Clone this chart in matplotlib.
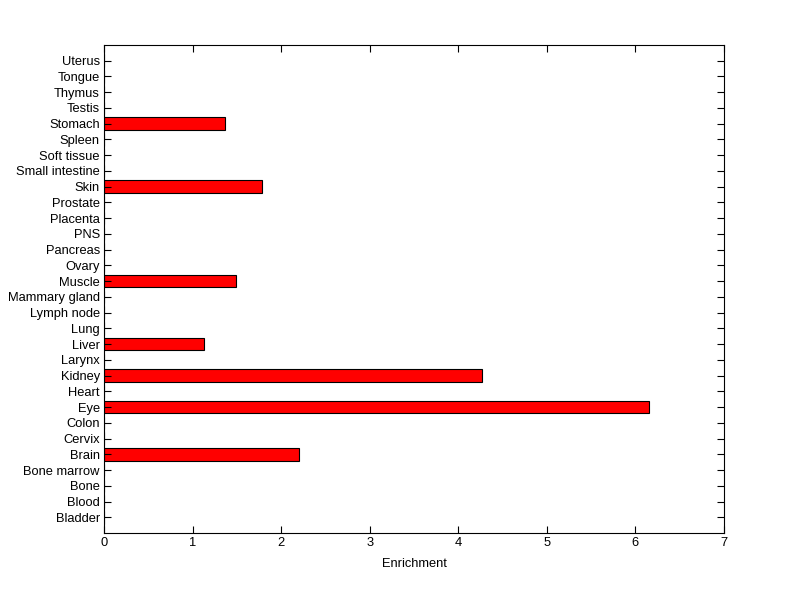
import matplotlib
matplotlib.use("Agg")
import matplotlib.pyplot as plt
import numpy as np

tissues = [
    "Bladder", "Blood", "Bone", "Bone marrow", "Brain", "Cervix", "Colon",
    "Eye", "Heart", "Kidney", "Larynx", "Liver", "Lung", "Lymph node",
    "Mammary gland", "Muscle", "Ovary", "Pancreas", "PNS", "Placenta",
    "Prostate", "Skin", "Small intestine", "Soft tissue", "Spleen",
    "Stomach", "Testis", "Thymus", "Tongue", "Uterus",
]
enrichment = [
    0, 0, 0, 0, 2.20, 0, 0,
    6.15, 0, 4.27, 0, 1.13, 0, 0,
    0, 1.49, 0, 0, 0, 0,
    0, 1.78, 0, 0, 0,
    1.37, 0, 0, 0, 0,
]
xticks = [0, 1, 2, 3, 4, 5, 6, 7]

plt.rcParams["font.family"] = ["Liberation Sans", "DejaVu Sans"]

fig = plt.figure(figsize=(8, 5.99), dpi=100)
ax = fig.add_axes([0.13, 0.11, 0.775, 0.815])

pos = np.arange(1, len(tissues) + 1)
ax.barh(pos, enrichment, height=0.8, color="#ff0000", edgecolor="black", linewidth=0.8)

ax.set_xlim(0, 7)
ax.set_ylim(0, len(tissues) + 1)
ax.set_xticks(xticks)
ax.set_yticks(pos)
ax.set_yticklabels(tissues)
ax.tick_params(direction="in", top=True, right=True, length=5, width=0.8,
               labelsize=9.3, pad=3)
for s in ax.spines.values():
    s.set_linewidth(0.8)
ax.set_xlabel("Enrichment", fontsize=9.3, labelpad=6)

fig.savefig("out.png", dpi=100)
